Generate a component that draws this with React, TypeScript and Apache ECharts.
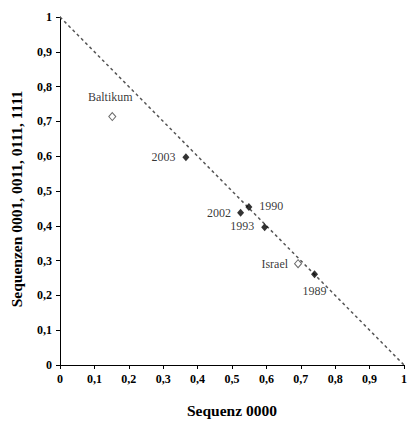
import React, { useEffect, useRef } from "react";
import * as echarts from "echarts";

const labels = ["Baltikum", "2003", "2002", "1990", "1993", "Israel", "1989"];
const xValues = [0.152, 0.366, 0.525, 0.549, 0.595, 0.692, 0.740];
const yValues = [0.714, 0.597, 0.4375, 0.454, 0.396, 0.291, 0.261];
const hollow = [true, false, false, false, false, true, false];
const labelPos = ["top", "left", "left", "right", "left", "left", "bottom"];
const diagonal = [[0, 1], [1, 0]];

const FONT = "Liberation Serif";

const fmt = (v: number) => (v === 0 || v === 1 ? String(v) : v.toFixed(1).replace(".", ","));

export default function App() {
  const ref = useRef<HTMLDivElement>(null);
  useEffect(() => {
    if (!ref.current) return;
    const chart = echarts.init(ref.current, null, { renderer: "svg" });
    const labelOffsets: Record<string, number[]> = {
      Baltikum: [-2, 0],
      "1990": [0, -1],
      "1993": [0, -1],
    };
    const labelDist: Record<string, number> = { Baltikum: 9, "2003": 7, "2002": 6, "1990": 7, "1993": 7, Israel: 6, "1989": 7 };
    const points = labels.map((name, i) => ({
      name,
      value: [xValues[i], yValues[i]],
      itemStyle: hollow[i]
        ? { color: "#ffffff", borderColor: "#444444", borderWidth: 1 }
        : { color: "#000000", borderColor: "#000000", borderWidth: 0 },
      label: {
        show: true,
        position: labelPos[i],
        distance: labelDist[name],
        offset: labelOffsets[name] || [0, 0],
        formatter: name,
        fontFamily: FONT,
        fontSize: 12,
        color: "#000",
      },
    }));
    const makeLabel = () => ({
      formatter: (v: number) => fmt(v),
      fontFamily: FONT,
      fontSize: 12,
      fontWeight: "bold",
      color: "#000",
      margin: 8,
      showMinLabel: true,
      showMaxLabel: true,
      hideOverlap: false,
    });
    chart.setOption({
      animation: false,
      backgroundColor: "#ffffff",
      grid: { left: 60, right: 4, top: 17, bottom: 57 },
      xAxis: {
        type: "value",
        min: 0,
        max: 1,
        interval: 0.1,
        name: "Sequenz 0000",
        nameLocation: "middle",
        nameGap: 37,
        nameTextStyle: { fontFamily: FONT, fontSize: 15.5, fontWeight: "bold", color: "#000" },
        axisLine: { onZero: false, lineStyle: { color: "#000", width: 1 } },
        axisTick: { show: true, inside: false, length: 4, lineStyle: { color: "#000" } },
        axisLabel: makeLabel(),
        splitLine: { show: false },
      },
      yAxis: {
        type: "value",
        min: 0,
        max: 1,
        interval: 0.1,
        name: "Sequenzen 0001, 0011, 0111, 1111",
        nameLocation: "middle",
        nameGap: 36,
        nameTextStyle: {
          fontFamily: FONT,
          fontSize: 15.5,
          fontWeight: "bold",
          color: "#000",
          padding: [0, 16, 0, 0],
        },
        axisLine: { show: true, onZero: false, lineStyle: { color: "#000", width: 1 } },
        axisTick: { show: true, inside: false, length: 4, lineStyle: { color: "#000" } },
        axisLabel: makeLabel(),
        splitLine: { show: false },
      },
      series: [
        {
          type: "line",
          data: diagonal,
          symbol: "none",
          silent: true,
          lineStyle: { color: "#555555", width: 1.5, type: [3, 3] },
          z: 1,
        },
        {
          type: "scatter",
          data: points,
          symbol: "diamond",
          symbolSize: [7, 8],
          z: 3,
        },
      ],
    });
    return () => chart.dispose();
  }, []);
  return (
    <div
      ref={ref}
      style={{ position: "fixed", left: 0, top: 0, width: 410, height: 423, background: "#fff" }}
    />
  );
}
